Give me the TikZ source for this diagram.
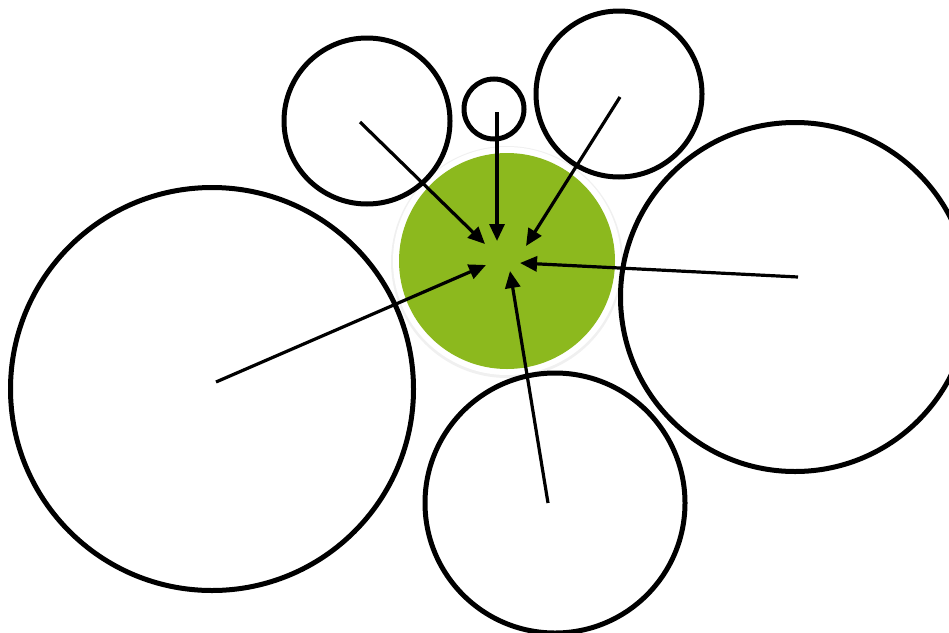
\documentclass[tikz,border=0pt]{standalone}
\usetikzlibrary{arrows.meta}
\definecolor{leaf}{HTML}{8CB91E}
\tikzset{
  ring/.style={circle,draw=black,line width=5pt,inner sep=0pt,fill=none},
  pointer/.style={line width=3.2pt,-{Triangle[length=17pt,width=15pt]}}
}
\begin{document}
\begin{tikzpicture}[x=1pt,y=-1pt]
\useasboundingbox (0,0) rectangle (949,632);
\begin{scope}
\clip (0,0) rectangle (949,632);
% central green circle with white rim and faint shadow
\node[circle,fill=black!6,minimum size=232pt,inner sep=0pt] (shade) at (507,262) {};
\node[circle,fill=white,minimum size=228pt,inner sep=0pt] (rim) at (507,261) {};
\node[circle,fill=leaf,minimum size=216pt,inner sep=0pt] (core) at (507,261) {};
% outer circles
\node[ring,minimum size=166pt] (tl) at (367,121) {};
\node[ring,minimum size=60pt] (sm) at (494,109) {};
\node[ring,minimum size=166pt] (tr) at (619,94) {};
\node[ring,minimum size=349pt] (rt) at (795,297) {};
\node[ring,minimum size=260pt] (bt) at (555,503) {};
\node[ring,minimum size=403pt] (lf) at (212,389) {};
% start and end points
\coordinate (s1) at (360,122); \coordinate (e1) at (485,244);
\coordinate (s2) at (497,112); \coordinate (e2) at (497,241);
\coordinate (s3) at (620,97);  \coordinate (e3) at (526,246);
\coordinate (s4) at (798,277); \coordinate (e4) at (520,263);
\coordinate (s5) at (548,503); \coordinate (e5) at (510,271);
\coordinate (s6) at (216,382); \coordinate (e6) at (486,265);
\foreach \i in {1,...,6} \draw[pointer] (s\i) -- (e\i);
\end{scope}
\end{tikzpicture}
\end{document}
